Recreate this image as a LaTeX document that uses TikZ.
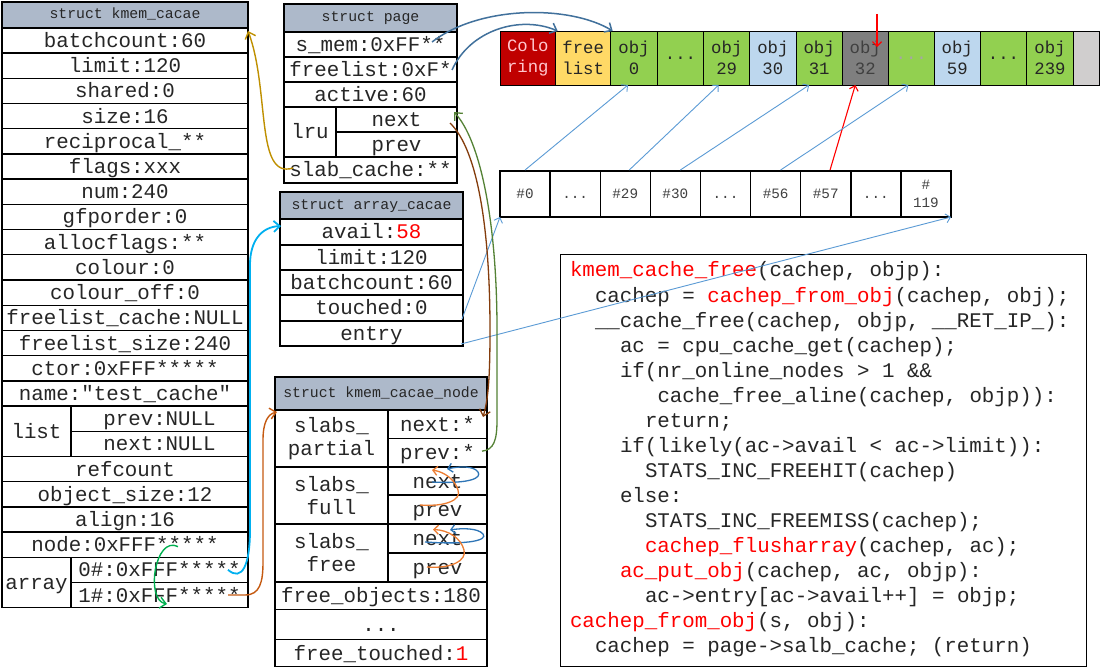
\documentclass[tikz,border=0pt]{standalone}
\usepackage{fontspec}
\setmonofont{Liberation Mono}
\usetikzlibrary{arrows.meta,calc}
\definecolor{hdr}{HTML}{ADB9CA}
\definecolor{txt}{HTML}{262626}
\definecolor{txtm}{HTML}{404040}
\definecolor{cred}{HTML}{C00000}
\definecolor{cpink}{HTML}{FFC7CE}
\definecolor{cyel}{HTML}{FFD966}
\definecolor{cgrn}{HTML}{92D050}
\definecolor{cblu}{HTML}{BDD7EE}
\definecolor{cdgr}{HTML}{7F7F7F}
\definecolor{clgr}{HTML}{D0CECE}
\definecolor{cdots}{HTML}{A6A6A6}
\definecolor{redtxt}{HTML}{FF0000}
\definecolor{agold}{HTML}{BF9000}
\definecolor{acyan}{HTML}{00B0F0}
\definecolor{aorb}{HTML}{C55A11}
\definecolor{agrn}{HTML}{00B050}
\definecolor{abrn}{HTML}{843C0C}
\definecolor{adgr}{HTML}{548235}
\definecolor{ablu}{HTML}{2E75B6}
\definecolor{aora}{HTML}{ED7D31}
\definecolor{atop}{HTML}{41719C}
\definecolor{athin}{HTML}{5B9BD5}
\definecolor{ared}{HTML}{FF0000}
\newcommand\cellbox[7]{\node[#6, minimum width={(#4-#2)*1pt}, minimum height={(#5-#3)*1pt}] (#1) at ({(#2+#4)/2},{(#3+#5)/2}) {#7};}
\tikzset{
  tc/.style={draw=black, line width=1.4pt, inner sep=0pt, outer sep=0pt, text=txt, font=\ttfamily\fontsize{20.8}{23}\selectfont, text height=15pt, text depth=1pt},
  tcm/.style={draw=black, line width=1.4pt, inner sep=0pt, outer sep=0pt, text=txt, font=\ttfamily\fontsize{20.8}{23}\selectfont, align=center},
  hc/.style={draw=black, line width=1.4pt, inner sep=0pt, outer sep=0pt, fill=hdr, text=txt, font=\ttfamily\fontsize{14.8}{17}\selectfont, text height=10pt, text depth=2pt},
  oc/.style={draw=black, line width=0.9pt, inner sep=0pt, outer sep=0pt, text=txt, font=\ttfamily\fontsize{17.3}{21}\selectfont, align=center},
  mc/.style={draw=black, line width=1.4pt, inner sep=0pt, outer sep=0pt, text=txtm, font=\ttfamily\fontsize{14.3}{18.7}\selectfont, text height=11pt, text depth=1pt},
  mcm/.style={draw=black, line width=1.4pt, inner sep=0pt, outer sep=0pt, text=txtm, font=\ttfamily\fontsize{14.3}{18.7}\selectfont, align=center},
  codebx/.style={draw=black, line width=0.9pt, inner sep=0pt, outer sep=0pt},
  cl/.style={anchor=base west, inner sep=0pt, outer sep=0pt, text=txt, font=\ttfamily\fontsize{20.8}{25}\selectfont},
  arr/.style={-{Straight Barb[length=6pt,width=11pt]}},
  sarr/.style={-{Straight Barb[length=4.5pt,width=9pt]}},
}
\begin{document}
\begin{tikzpicture}[x=1pt,y=-1pt]
\fill[white] (0,0) rectangle (1100,668);
\useasboundingbox (0,0) rectangle (1100,668);
% struct kmem_cacae
\cellbox{kh}{2}{2}{248}{28}{hc}{struct kmem\_cacae}
\cellbox{kbatch}{2}{28.0}{248}{53.2}{tc}{batchcount:60}
\cellbox{klimit}{2}{53.2}{248}{78.4}{tc}{limit:120}
\cellbox{kshared}{2}{78.4}{248}{103.6}{tc}{shared:0}
\cellbox{ksize}{2}{103.6}{248}{128.8}{tc}{size:16}
\cellbox{krecip}{2}{128.8}{248}{154.0}{tc}{reciprocal\_**}
\cellbox{kflags}{2}{154.0}{248}{179.2}{tc}{flags:xxx}
\cellbox{knum}{2}{179.2}{248}{204.4}{tc}{num:240}
\cellbox{kgfp}{2}{204.4}{248}{229.6}{tc}{gfporder:0}
\cellbox{kalloc}{2}{229.6}{248}{254.8}{tc}{allocflags:**}
\cellbox{kcolour}{2}{254.8}{248}{280.0}{tc}{colour:0}
\cellbox{kcoloff}{2}{280.0}{248}{305.2}{tc}{colour\_off:0}
\cellbox{kflc}{2}{305.2}{248}{330.4}{tc}{freelist\_cache:NULL}
\cellbox{kfls}{2}{330.4}{248}{355.6}{tc}{freelist\_size:240}
\cellbox{kctor}{2}{355.6}{248}{380.8}{tc}{ctor:0xFFF*****}
\cellbox{kname}{2}{380.8}{248}{406.0}{tc}{name:"test\_cache"}
\cellbox{klist}{2}{406.0}{71}{456.4}{tc}{list}
\cellbox{klprev}{71}{406.0}{248}{431.2}{tc}{prev:NULL}
\cellbox{klnext}{71}{431.2}{248}{456.4}{tc}{next:NULL}
\cellbox{kref}{2}{456.4}{248}{481.6}{tc}{refcount}
\cellbox{kobj}{2}{481.6}{248}{506.8}{tc}{object\_size:12}
\cellbox{kalign}{2}{506.8}{248}{532.0}{tc}{align:16}
\cellbox{knode}{2}{532.0}{248}{557.2}{tc}{node:0xFFF*****}
\cellbox{karr}{2}{557.2}{71}{607.6}{tc}{array}
\cellbox{ka0}{71}{557.2}{248}{582.4}{tc}{0\#:0xFFF*****}
\cellbox{ka1}{71}{582.4}{248}{607.6}{tc}{1\#:0xFFF*****}
% struct page
\cellbox{ph}{284}{4}{457}{32}{hc}{struct page}
\cellbox{psmem}{284}{32}{457}{57}{tc}{s\_mem:0xFF**}
\cellbox{pfree}{284}{57}{457}{82}{tc}{freelist:0xF*}
\cellbox{pact}{284}{82}{457}{107}{tc}{active:60}
\cellbox{plru}{284}{107}{336}{157}{tc}{lru}
\cellbox{pnext}{336}{107}{457}{132}{tc}{next}
\cellbox{pprev}{336}{132}{457}{157}{tc}{prev}
\cellbox{pslab}{284}{157}{457}{183}{tc}{slab\_cache:**}
% struct array_cacae
\cellbox{ah}{280}{192}{463}{219}{hc}{struct array\_cacae}
\cellbox{aavail}{280}{219}{463}{245}{tc}{avail:\textcolor{redtxt}{58}}
\cellbox{alimit}{280}{245}{463}{270}{tc}{limit:120}
\cellbox{abatch}{280}{270}{463}{295}{tc}{batchcount:60}
\cellbox{atouch}{280}{295}{463}{321}{tc}{touched:0}
\cellbox{aentry}{280}{321}{463}{346}{tc}{entry}
% struct kmem_cacae_node
\cellbox{nh}{275}{377}{487}{410}{hc}{struct kmem\_cacae\_node}
\cellbox{npl}{275}{410}{388}{467}{tcm}{slabs\_\\partial}
\cellbox{npn}{388}{410}{487}{438.3}{tc}{next:*}
\cellbox{npp}{388}{438.3}{487}{467}{tc}{prev:*}
\cellbox{nfl}{275}{467}{388}{524}{tcm}{slabs\_\\full}
\cellbox{nfn}{388}{467}{487}{495}{tc}{next}
\cellbox{nfp}{388}{495}{487}{524}{tc}{prev}
\cellbox{nrl}{275}{524}{388}{582}{tcm}{slabs\_\\free}
\cellbox{nrn}{388}{524}{487}{553}{tc}{next}
\cellbox{nrp}{388}{553}{487}{582}{tc}{prev}
\cellbox{nobj}{275}{582}{487}{609.5}{tc}{free\_objects:180}
\cellbox{ndots}{275}{609.5}{487}{639.3}{tc}{...}
\cellbox{ntouch}{275}{639.3}{487}{666.7}{tc}{free\_touched:\textcolor{redtxt}{1}}
% slab objects row
\cellbox{t1}{500}{31}{555.7}{85}{oc,fill=cred,text=cpink}{Colo\\ring}
\cellbox{t2}{555.7}{31}{610.7}{85}{oc,fill=cyel}{free\\list}
\cellbox{t3}{610.7}{31}{657.3}{85}{oc,fill=cgrn}{obj\\0}
\cellbox{t4}{657.3}{31}{703.7}{85}{oc,fill=cgrn}{...}
\cellbox{t5}{703.7}{31}{749.7}{85}{oc,fill=cgrn}{obj\\29}
\cellbox{t6}{749.7}{31}{796}{85}{oc,fill=cblu}{obj\\30}
\cellbox{t7}{796}{31}{842.3}{85}{oc,fill=cgrn}{obj\\31}
\cellbox{t8}{842.3}{31}{888.3}{85}{oc,fill=cdgr,text=txtm}{obj\\32}
\cellbox{t9}{888.3}{31}{934.3}{85}{oc,fill=cgrn,text=cdots}{...}
\cellbox{t10}{934.3}{31}{980.3}{85}{oc,fill=cblu}{obj\\59}
\cellbox{t11}{980.3}{31}{1026.7}{85}{oc,fill=cgrn}{...}
\cellbox{t12}{1026.7}{31}{1073.3}{85}{oc,fill=cgrn}{obj\\239}
\cellbox{t13}{1073.3}{31}{1099.5}{85}{oc,fill=clgr}{}
% entry array row
\cellbox{m0}{500}{171}{550.1}{217}{mc}{\#0}
\cellbox{m1}{550.1}{171}{600.2}{217}{mc}{...}
\cellbox{m2}{600.2}{171}{650.3}{217}{mc}{\#29}
\cellbox{m3}{650.3}{171}{700.4}{217}{mc}{\#30}
\cellbox{m4}{700.4}{171}{750.6}{217}{mc}{...}
\cellbox{m5}{750.6}{171}{800.7}{217}{mc}{\#56}
\cellbox{m6}{800.7}{171}{850.8}{217}{mc}{\#57}
\cellbox{m7}{850.8}{171}{900.9}{217}{mc}{...}
\cellbox{m8}{900.9}{171}{951}{217}{mcm}{\#\\119}
% code box
\cellbox{codebox}{560}{254}{1086}{666}{codebx}{}
\node[cl] (c0) at (570,277) {\textcolor{redtxt}{kmem\_cache\_free}(cachep, objp):};
\node[cl] (c1) at (595,302) {cachep = \textcolor{redtxt}{cachep\_from\_obj}(cachep, obj);};
\node[cl] (c2) at (595,327) {\_\_cache\_free(cachep, objp, \_\_RET\_IP\_):};
\node[cl] (c3) at (620,352) {ac = cpu\_cache\_get(cachep);};
\node[cl] (c4) at (620,377) {if(nr\_online\_nodes > 1 \&\&};
\node[cl] (c5) at (657.5,402) {cache\_free\_aline(cachep, objp)):};
\node[cl] (c6) at (645,427) {return;};
\node[cl] (c7) at (620,452) {if(likely(ac->avail < ac->limit)):};
\node[cl] (c8) at (645,477) {STATS\_INC\_FREEHIT(cachep)};
\node[cl] (c9) at (620,502) {else:};
\node[cl] (c10) at (645,527) {STATS\_INC\_FREEMISS(cachep);};
\node[cl] (c11) at (645,552) {\textcolor{redtxt}{cachep\_flusharray}(cachep, ac);};
\node[cl] (c12) at (620,577) {\textcolor{redtxt}{ac\_put\_obj}(cachep, ac, objp):};
\node[cl] (c13) at (645,602) {ac->entry[ac->avail++] = objp;};
\node[cl] (c14) at (570,627) {\textcolor{redtxt}{cachep\_from\_obj}(s, obj):};
\node[cl] (c15) at (595,652) {cachep = page->salb\_cache; (return)};
% connectors: page -> slab
\draw[atop, line width=1.5pt, arr] ($(psmem.east)+(-25,-2.5)$) .. controls (480,5) and (570,5) .. ($(t3.north west)+(2,0)$);
\draw[atop, line width=1.5pt, arr] ($(pfree.east)+(-5,0.5)$) .. controls (470,30) and (520,15) .. ($(t2.north west)+(2,0)$);
\coordinate (rtop) at (877,14);
\draw[ared, line width=1.2pt, sarr] (rtop) -- ($(t8.north)+(11.7,16)$);
\draw[ared, line width=1.1pt, sarr] ($(m6.north)+(4.3,-1)$) -- ($(t8.south)+(-10,0)$);
\draw[athin, line width=0.9pt, sarr] ($(m0.north)+(0,-1)$) -- ($(t3.south)+(-6,0)$);
\draw[athin, line width=0.9pt, sarr] ($(m2.north)+(4,-1)$) -- ($(t5.south)+(-8,0)$);
\draw[athin, line width=0.9pt, sarr] ($(m3.north)+(5,-1)$) -- ($(t7.south)+(-10,0)$);
\draw[athin, line width=0.9pt, sarr] ($(m5.north)+(5,-1)$) -- ($(t9.south)+(-3,0)$);
\draw[athin, line width=0.9pt, sarr] ($(aentry.north east)+(-1,-2)$) -- (m0.south west);
\draw[athin, line width=0.9pt, sarr] ($(aentry.south east)+(-2,-2)$) -- (m8.south east);
% slab_cache -> kmem_cacae
\draw[agold, line width=1.4pt, arr] ($(pslab.west)+(9,-2)$) .. controls (255,180) and (270,90) .. ($(kbatch.north east)+(0,3)$);
% array 0# -> array_cacae
\draw[acyan, line width=1.8pt, arr] ($(ka0.east)+(-20,0)$) .. controls (242,582) and (250,565) .. (250,530) -- (250,265) .. controls (250,240) and (262,227) .. ($(aavail.west)+(1,-6)$);
% array 1# -> kmem_cacae_node
\draw[aorb, line width=1.4pt, arr] ($(ka1.east)+(-20,0)$) -- (245,595) .. controls (260,595) and (263,582) .. (263,562) -- (263,440) .. controls (263,422) and (268,414) .. ($(npl.north west)+(2,2)$);
% node loop
\draw[agrn, line width=1.4pt, arr] ($(knode.center)+(53,2)$) .. controls (155,535) and (145,600) .. ($(ka1.center)+(7.5,9)$);
% lru next -> slabs_partial next
\draw[abrn, line width=1.3pt, arr] ($(pnext.east)+(-7,3.5)$) .. controls (478,150) and (490,230) .. (490,330) .. controls (490,380) and (488,400) .. ($(npn.north east)+(-4,7)$);
% slabs_partial prev -> lru
\draw[adgr, line width=1.3pt, arr] ($(npp.east)+(-5,-1.5)$) .. controls (494,450) and (497,440) .. (497,420) -- (497,330) .. controls (497,220) and (480,140) .. ($(pnext.north east)+(-3,5)$);
% empty list loops
\draw[ablu, line width=1.3pt, sarr] ($(nfn.center)+(-5.5,1)$) .. controls (470,484) and (482,478) .. (478,472) .. controls (474,466) and (460,466) .. ($(nfn.center)+(9.5,-12)$);
\draw[ablu, line width=1.3pt, sarr] ($(nrn.center)+(-12.5,3.5)$) .. controls (470,545) and (488,540) .. (483,534) .. controls (478,528) and (462,528) .. ($(nrn.center)+(12.5,-8.5)$);
\draw[aora, line width=1.3pt, sarr] ($(nfp.center)+(-17.5,-4.5)$) .. controls (445,507) and (462,500) .. (458,490) .. controls (455,480) and (445,472) .. ($(nfn.center)+(-5.5,-11)$);
\draw[aora, line width=1.3pt, sarr] ($(nrp.center)+(-10.5,-0.5)$) .. controls (452,569) and (467,560) .. (464,550) .. controls (461,538) and (448,530) .. ($(nrn.center)+(-4.5,-9)$);
\end{tikzpicture}
\end{document}
